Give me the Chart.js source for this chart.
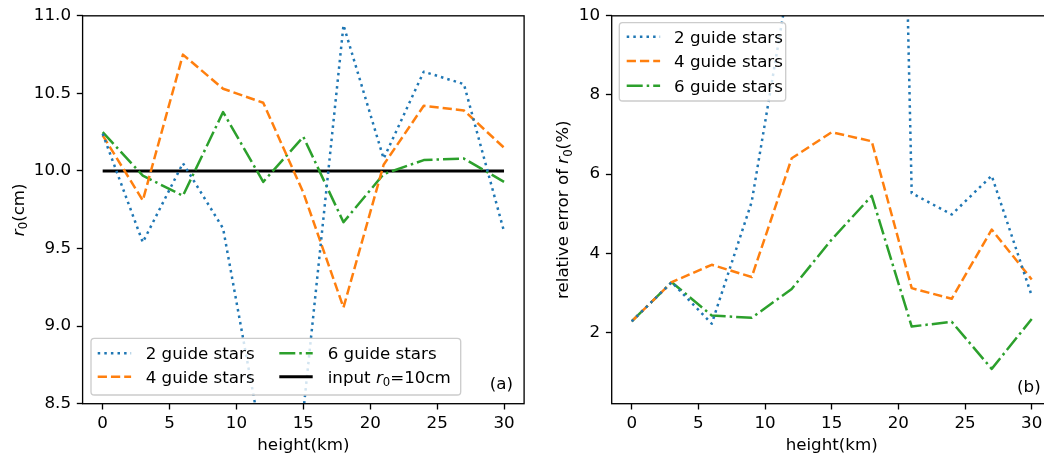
<!DOCTYPE html>
<html><head><meta charset="utf-8">
<script src="https://cdn.jsdelivr.net/npm/chart.js@4"></script>
<style>
html,body{margin:0;padding:0;background:#fff;overflow:hidden;}
#wrap{position:relative;width:1044px;height:459px;overflow:hidden;background:#fff;}
canvas{position:absolute;top:0;}
</style></head><body>
<div id="wrap">
<canvas id="c1" width="540" height="459" style="left:0px;width:540px;height:459px"></canvas>
<canvas id="c2" width="530" height="459" style="left:530px;width:530px;height:459px"></canvas>
</div>
<script>
// ---- data ----
const heights = [0,3,6,9,12,15,18,21,24,27,30];
const r0Stars2 = [10.24,9.54,10.05,9.63,8.21,8.45,10.94,10.08,10.64,10.56,9.61];
const r0Stars4 = [10.23,9.81,10.75,10.53,10.44,9.86,9.12,10.04,10.42,10.39,10.15];
const r0Stars6 = [10.25,9.97,9.84,10.38,9.93,10.22,9.67,9.98,10.07,10.08,9.93];
const r0Input  = [10,10,10,10,10,10,10,10,10,10,10];
const errStars2 = [2.28,3.27,2.22,5.3,11.3,30,52,5.52,4.98,5.96,2.93];
const errStars4 = [2.28,3.27,3.71,3.4,6.4,7.06,6.83,3.12,2.85,4.6,3.34];
const errStars6 = [2.28,3.27,2.43,2.37,3.1,4.35,5.45,2.15,2.27,1.08,2.34];
const xTicks = [0,5,10,15,20,25,30];
const r0Ticks = [8.5,9.0,9.5,10.0,10.5,11.0];
const errTicks = [2,4,6,8,10];
const seriesLabels = ['2 guide stars','4 guide stars','6 guide stars'];

// ---- styling ----
const FONT = '"DejaVu Sans", sans-serif';
const FS = 16.7;
const STY = {
  s2:{color:'#1f77b4', dash:[2.5,4.1], w:2.5},
  s4:{color:'#ff7f0e', dash:[9.25,4], w:2.5},
  s6:{color:'#2ca02c', dash:[16,4,2.5,4], w:2.5},
  inp:{color:'#000000', dash:[], w:3}
};
function pts(ys){ return heights.map((h,i)=>({x:h,y:ys[i]})); }
function ds(label, ys, st){
  return {label, data:pts(ys), borderColor:st.color, backgroundColor:st.color,
    borderWidth:st.w, borderDash:st.dash, borderCapStyle:'butt', borderJoinStyle:'round',
    pointRadius:0, pointHoverRadius:0, tension:0, fill:false};
}
function fnt(style, size){ return (style?style+' ':'') + size + 'px ' + FONT; }
function richWidth(ctx, parts){
  let w=0;
  for(const p of parts){ ctx.font = p.sub?fnt('',FS*0.7):fnt(p.it?'italic':'',FS); w+=ctx.measureText(p.t).width; }
  return w;
}
function drawRich(ctx, parts, x, y, align){
  ctx.textBaseline='alphabetic'; ctx.textAlign='left'; ctx.fillStyle='#000';
  const w = richWidth(ctx, parts);
  let cx = align==='center'? x-w/2 : (align==='right'? x-w : x);
  for(const p of parts){
    ctx.font = p.sub?fnt('',FS*0.7):fnt(p.it?'italic':'',FS);
    ctx.fillText(p.t, cx, p.sub? y+3.2 : y);
    cx += ctx.measureText(p.t).width;
  }
}
function makeDeco(cfg){
  return {
    id:'deco',
    afterDraw(chart){
      const ctx = chart.ctx, a = chart.chartArea;
      ctx.save();
      // frame (spines)
      ctx.strokeStyle='#000'; ctx.lineWidth=1.33; ctx.setLineDash([]);
      ctx.strokeRect(a.left, a.top, a.right-a.left, a.bottom-a.top);
      // x title
      drawRich(ctx, [{t:'height(km)'}], (a.left+a.right)/2, cfg.xTitleY, 'center');
      // y title
      ctx.save();
      ctx.translate(cfg.yTitleX, (a.top+a.bottom)/2);
      ctx.rotate(-Math.PI/2);
      drawRich(ctx, cfg.yTitle, 0, 0, 'center');
      ctx.restore();
      // panel label
      drawRich(ctx, [{t:cfg.panel}], a.right-11, cfg.panelY, 'right');
      // legend
      const L = cfg.legend;
      ctx.beginPath();
      const r=3.3, x0=L.box[0], y0=L.box[1], x1=L.box[2], y1=L.box[3];
      ctx.moveTo(x0+r,y0); ctx.lineTo(x1-r,y0); ctx.arcTo(x1,y0,x1,y0+r,r);
      ctx.lineTo(x1,y1-r); ctx.arcTo(x1,y1,x1-r,y1,r); ctx.lineTo(x0+r,y1);
      ctx.arcTo(x0,y1,x0,y1-r,r); ctx.lineTo(x0,y0+r); ctx.arcTo(x0,y0,x0+r,y0,r);
      ctx.closePath();
      ctx.fillStyle='rgba(255,255,255,0.8)'; ctx.fill();
      ctx.strokeStyle='#cccccc'; ctx.lineWidth=1.33; ctx.stroke();
      for(const e of L.items){
        ctx.beginPath();
        ctx.strokeStyle=e.st.color; ctx.lineWidth=e.st.w; ctx.lineCap='butt';
        ctx.setLineDash(e.st.dash);
        ctx.moveTo(e.hx, e.y); ctx.lineTo(e.hx+33.4, e.y); ctx.stroke();
        ctx.setLineDash([]);
        drawRich(ctx, e.parts, e.tx, e.y+6, 'left');
      }
      ctx.restore();
    }
  };
}
function scaleOpts(o){
  const tickFont = {family:FONT, size:FS};
  const grid = {display:true, drawOnChartArea:false, drawTicks:true, tickLength:5.8, tickColor:'#000', tickWidth:1.33};
  return {
    x:{type:'linear', min:-1.5, max:31.5,
       afterBuildTicks:s=>{ s.ticks = xTicks.map(v=>({value:v})); },
       afterFit:s=>{ s.height = o.xh; },
       ticks:{font:tickFont, color:'#000', padding:4, maxRotation:0, autoSkip:false, callback:v=>String(v)},
       grid:grid, border:{display:false}, title:{display:false}},
    y:{type:'linear', min:o.ymin, max:o.ymax,
       afterBuildTicks:s=>{ s.ticks = o.yt.map(v=>({value:v})); },
       afterFit:s=>{ s.width = o.yw; },
       ticks:{font:tickFont, color:'#000', padding:5.8, autoSkip:false, callback:o.fmt},
       grid:grid, border:{display:false}, title:{display:false}}
  };
}
function baseOpts(o){
  return {
    responsive:false, animation:false, devicePixelRatio:1,
    layout:{padding:{left:0, top:14, right:o.padR, bottom:0}},
    plugins:{legend:{display:false}, tooltip:{enabled:false}},
    events:[],
    scales:scaleOpts(o)
  };
}

// ---- left chart (a) ----
new Chart(document.getElementById('c1'), {
  type:'line',
  data:{datasets:[
    ds(seriesLabels[0], r0Stars2, STY.s2),
    ds(seriesLabels[1], r0Stars4, STY.s4),
    ds(seriesLabels[2], r0Stars6, STY.s6),
    ds('input r0=10cm', r0Input, STY.inp)
  ]},
  options: baseOpts({padR:540-524.1, xh:459-403.7, yw:82.6, ymin:8.5, ymax:11.0, yt:r0Ticks, fmt:v=>Number(v).toFixed(1)}),
  plugins:[makeDeco({
    xTitleY:450, yTitleX:23.5, panel:'(a)', panelY:389,
    yTitle:[{t:'r',it:true},{t:'0',sub:true},{t:'(cm)'}],
    legend:{box:[91,338.3,460.7,395], items:[
      {st:STY.s2, hx:97.7, tx:145.7, y:353.3, parts:[{t:seriesLabels[0]}]},
      {st:STY.s4, hx:97.7, tx:145.7, y:376.7, parts:[{t:seriesLabels[1]}]},
      {st:STY.s6, hx:279.3, tx:327.7, y:353.3, parts:[{t:seriesLabels[2]}]},
      {st:STY.inp, hx:279.3, tx:327.7, y:376.7, parts:[{t:'input '},{t:'r',it:true},{t:'0',sub:true},{t:'=10cm'}]}
    ]}
  })]
});

// ---- right chart (b) ----
const OX = 530;
new Chart(document.getElementById('c2'), {
  type:'line',
  data:{datasets:[
    ds(seriesLabels[0], errStars2, STY.s2),
    ds(seriesLabels[1], errStars4, STY.s4),
    ds(seriesLabels[2], errStars6, STY.s6)
  ]},
  options: baseOpts({padR:530-(1051.7-OX), xh:459-403.7, yw:611.7-OX, ymin:0.2, ymax:10, yt:errTicks, fmt:v=>String(v)}),
  plugins:[makeDeco({
    xTitleY:450, yTitleX:568.3-OX, panel:'(b)', panelY:392,
    yTitle:[{t:'relative error of '},{t:'r',it:true},{t:'0',sub:true},{t:'(%)'}],
    legend:{box:[619.3-OX,22.7,785.7-OX,101], items:[
      {st:STY.s2, hx:626.7-OX, tx:674-OX, y:36.7, parts:[{t:seriesLabels[0]}]},
      {st:STY.s4, hx:626.7-OX, tx:674-OX, y:61, parts:[{t:seriesLabels[1]}]},
      {st:STY.s6, hx:626.7-OX, tx:674-OX, y:85.7, parts:[{t:seriesLabels[2]}]}
    ]}
  })]
});
</script>
</body></html>
